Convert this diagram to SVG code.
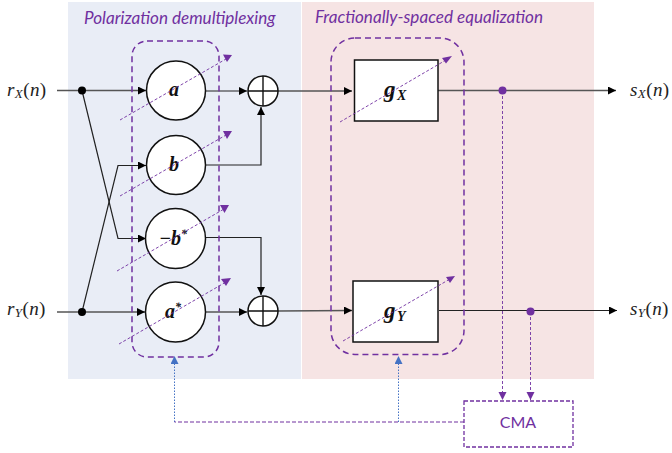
<svg xmlns="http://www.w3.org/2000/svg" width="672" height="453" viewBox="0 0 672 453">
<style>
.w{stroke:#222;stroke-width:1.2;fill:none}
.wg{stroke:#555;stroke-width:1.3;fill:none}
.n{fill:#fff;stroke:#111;stroke-width:1.5}
.s{fill:none;stroke:#111;stroke-width:1.4}
.grp{fill:none;stroke:#7030a0;stroke-width:1.5;stroke-dasharray:6 4}
.d{fill:none;stroke:#7030a0;stroke-width:.9;stroke-dasharray:3 2}
.fb{fill:none;stroke:#4472c4;stroke-width:1;stroke-dasharray:1.5 1.5}
.p{fill:#7030a0}
.m{font-family:"Liberation Serif",serif;font-style:italic;fill:#222;letter-spacing:.4px}
.l{font-size:19px}
.sub{font-size:13px}
.b{font-family:"Liberation Serif",serif;font-style:italic;font-weight:bold;font-size:20px;fill:#111}
.t{font-family:Lato,"Open Sans",sans-serif;font-style:italic;font-size:17.1px;fill:#7030a0}
</style>
<defs>
<marker id="ak" markerUnits="userSpaceOnUse" markerWidth="10" markerHeight="10" refX="8" refY="4" orient="auto"><path d="M0 0L8 4L0 8Z" fill="#000"/></marker>
<marker id="ap" markerUnits="userSpaceOnUse" markerWidth="10" markerHeight="10" refX="8" refY="4" orient="auto"><path d="M0 0L8 4L0 8Z" fill="#7030a0"/></marker>
<marker id="ab" markerUnits="userSpaceOnUse" markerWidth="10" markerHeight="10" refX="8" refY="4" orient="auto"><path d="M0 0L8 4L0 8Z" fill="#4472c4"/></marker>
</defs>
<rect x="68" y="2" width="233" height="377" fill="#e9edf6"/>
<rect x="302" y="2" width="292" height="377" fill="#f6e4e4"/>
<text class="t" x="84" y="24">Polarization demultiplexing</text>
<text class="t" x="315" y="23">Fractionally-spaced equalization</text>

<g id="connectors">
<path class="wg" d="M57 90.500H146" marker-end="url(#ak)"/>
<path class="w" d="M82 90.500L118 238.500H146" marker-end="url(#ak)"/>
<path class="wg" d="M57 312H145" marker-end="url(#ak)"/>
<path class="w" d="M82 312L118 165.500H146" marker-end="url(#ak)"/>
<path class="w" d="M206 91H247" marker-end="url(#ak)"/>
<path class="w" d="M206 165H261V107" marker-end="url(#ak)"/>
<path class="w" d="M206 237.500H261V295" marker-end="url(#ak)"/>
<path class="wg" d="M206 312H247" marker-end="url(#ak)"/>
<path class="wg" d="M278 91H352" marker-end="url(#ak)"/>
<path class="wg" d="M278 311L352 310.500" marker-end="url(#ak)"/>
<path class="wg" d="M438 90.500H616" marker-end="url(#ak)"/>
<path class="w" d="M439 310.500H617" marker-end="url(#ak)"/>
<path class="d" d="M502.500 91V400" marker-end="url(#ap)"/>
<path class="d" d="M530.500 312V400" marker-end="url(#ap)"/>
<path class="fb" d="M174.500 422V356" marker-end="url(#ab)"/>
<path class="fb" d="M398.500 422V356" marker-end="url(#ab)"/>
<path d="M464 422H174.500" fill="none" stroke="#7030a0" stroke-width="1.2" stroke-dasharray="4 2"/>
<circle cx="82" cy="90.500" r="4" fill="#000"/>
<circle cx="82" cy="312" r="4" fill="#000"/>
<circle class="p" cx="502.500" cy="90.500" r="4"/>
<circle class="p" cx="530.500" cy="311.500" r="4"/>
</g>

<g id="node-a"><circle class="n" cx="176" cy="90.500" r="29.500"/><text class="b" x="174" y="96" text-anchor="middle">a</text></g>
<g id="node-b"><circle class="n" cx="176" cy="165" r="29.500"/><text class="b" x="174" y="171" text-anchor="middle">b</text></g>
<g id="node-minus-b-conj"><circle class="n" cx="175.500" cy="238.500" r="30"/><text class="b" x="173" y="245" text-anchor="middle">−b<tspan font-size="12" dy="-7">*</tspan></text></g>
<g id="node-a-conj"><circle class="n" cx="175.500" cy="312" r="30"/><text class="b" x="173" y="318" text-anchor="middle">a<tspan font-size="12" dy="-7">*</tspan></text></g>
<g id="sum-top"><circle class="n" cx="263" cy="91" r="15"/><path class="s" d="M248 91H278M263 76V106"/></g>
<g id="sum-bottom"><circle class="n" cx="263" cy="311" r="15"/><path class="s" d="M248 311H278M263 296V326"/></g>
<g id="node-gx"><rect class="n" x="354.500" y="60" width="83.500" height="61"/><text class="b" x="384" y="97" style="font-size:23px">g<tspan style="font-size:14px" dx="1.500" dy="3">X</tspan></text></g>
<g id="node-gy"><rect class="n" x="353" y="281" width="85" height="61"/><text class="b" x="384" y="318" style="font-size:23px">g<tspan style="font-size:14px" dx="1.500" dy="3">Y</tspan></text></g>
<g id="group-demux"><rect class="grp" x="132" y="41" width="87" height="316" rx="15"/></g>
<g id="group-eq"><rect class="grp" x="331" y="38" width="133" height="316.500" rx="24"/></g>
<g id="tunable">
<path class="d" d="M120 120L226 59"/><polygon class="p" points="223,54.500 232,55 227,62"/>
<path class="d" d="M120 196L226 135"/><polygon class="p" points="223,131 232,131 227,139"/>
<path class="d" d="M117 271L224 209"/><polygon class="p" points="220,205 229,205 224.500,213"/>
<path class="d" d="M119 344L226 282"/><polygon class="p" points="221,279 231,278 226,286"/>
<path class="d" d="M340 122L446 60"/><polygon class="p" points="442,58 452,56 446,63.500"/>
<path class="d" d="M343 341L450 279"/><polygon class="p" points="446,277 455,276 450,283"/>
</g>
<g id="node-cma"><rect x="464" y="401" width="109" height="46" fill="none" stroke="#7030a0" stroke-width="1.3" stroke-dasharray="4 2"/><text x="518" y="428" text-anchor="middle" font-family="Lato,'Open Sans',sans-serif" font-size="16" fill="#7030a0">CMA</text></g>
<g id="labels">
<text class="m l" x="7" y="96">r<tspan class="sub" dy="2">X</tspan><tspan dy="-2" font-style="normal">(</tspan>n<tspan font-style="normal">)</tspan></text>
<text class="m l" x="7" y="315">r<tspan class="sub" dy="2">Y</tspan><tspan dy="-2" font-style="normal">(</tspan>n<tspan font-style="normal">)</tspan></text>
<text class="m l" x="630" y="96">s<tspan class="sub" dy="2">X</tspan><tspan dy="-2" font-style="normal">(</tspan>n<tspan font-style="normal">)</tspan></text>
<text class="m l" x="630" y="315">s<tspan class="sub" dy="2">Y</tspan><tspan dy="-2" font-style="normal">(</tspan>n<tspan font-style="normal">)</tspan></text>
</g>
</svg>
